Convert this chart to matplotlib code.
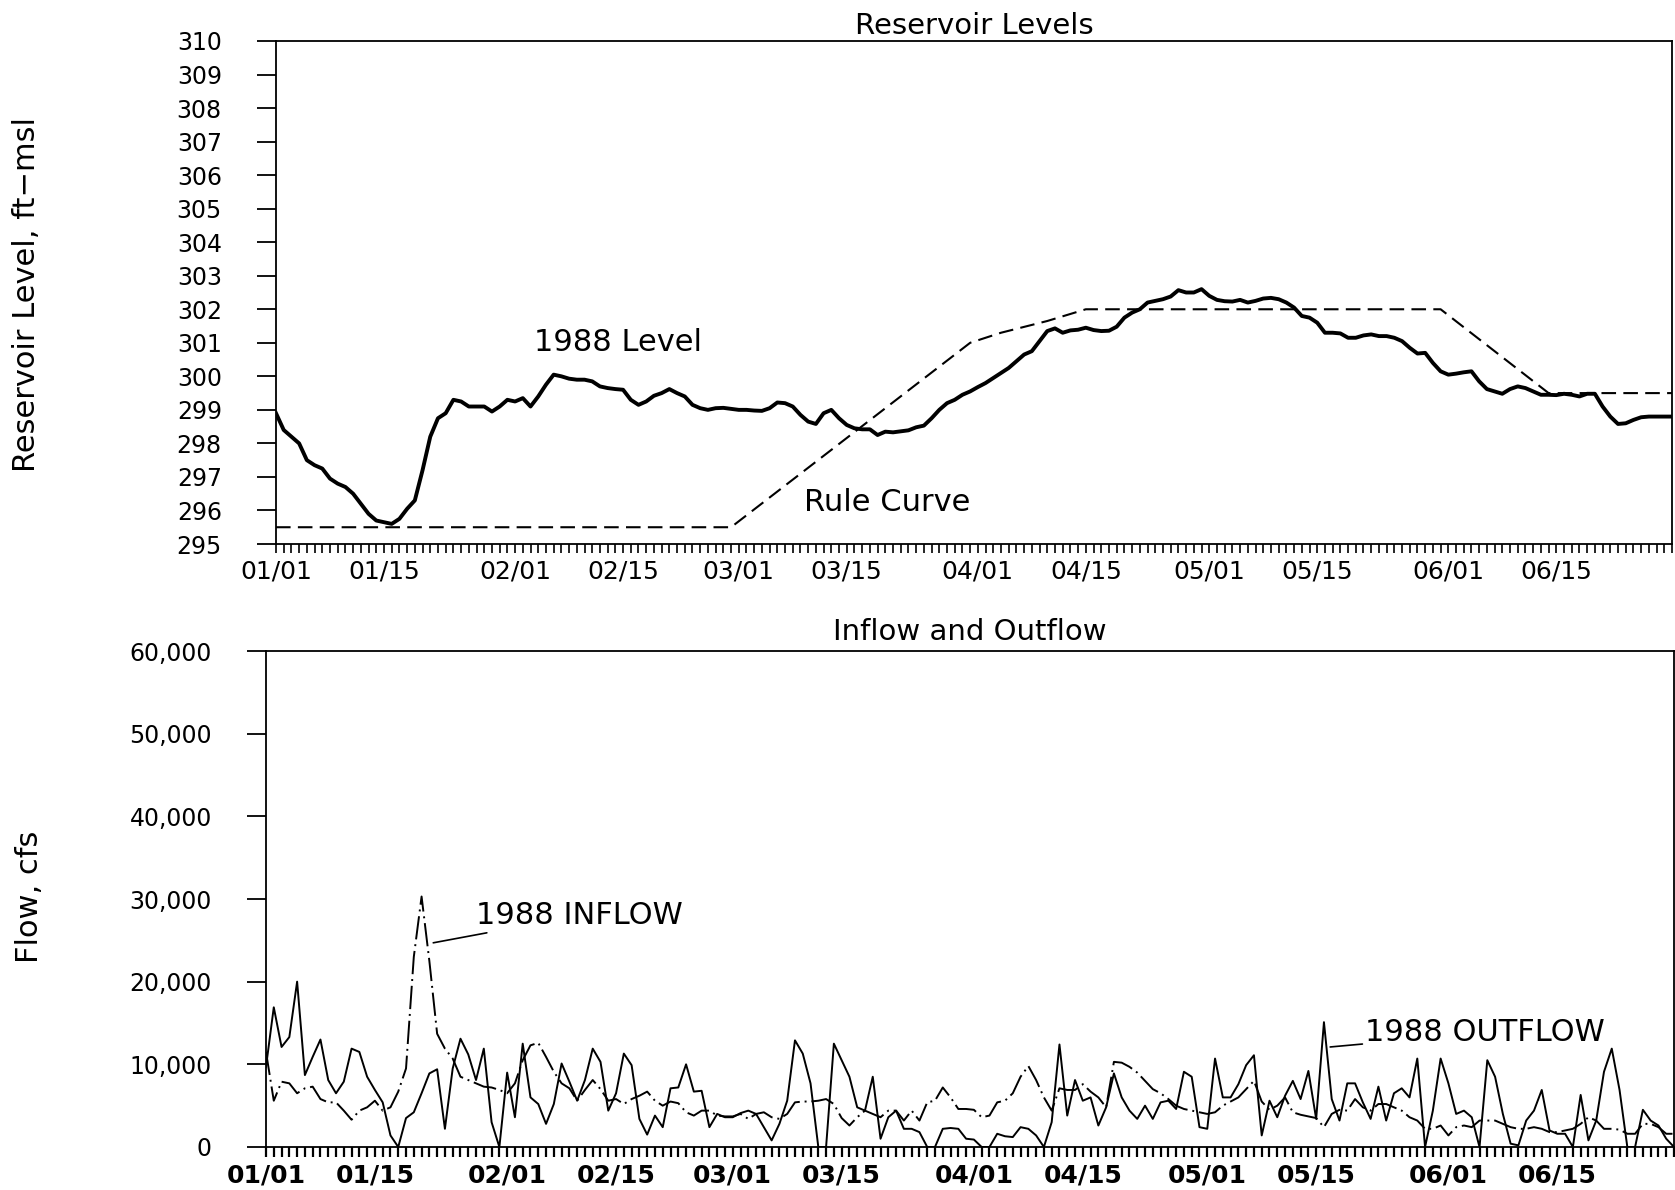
import matplotlib
matplotlib.use("Agg")
import matplotlib.pyplot as plt
import numpy as np

plt.rcParams["font.family"] = ["DejaVu Sans"]

# daily values, 01/01/1988 .. 06/30/1988 (day 0 .. 181)
level = [
    298.9, 298.4, 298.2, 298.0, 297.5, 297.35, 297.25, 296.95, 296.8, 296.7,
    296.5, 296.2, 295.9, 295.7, 295.65, 295.6, 295.75, 296.05, 296.3, 297.2,
    298.2, 298.75, 298.9, 299.3, 299.25, 299.1, 299.1, 299.1, 298.95, 299.1,
    299.3, 299.25, 299.35, 299.1, 299.4, 299.75, 300.05, 300.0, 299.93, 299.9,
    299.9, 299.85, 299.7, 299.65, 299.62, 299.6, 299.3, 299.15, 299.25, 299.42,
    299.5, 299.62, 299.5, 299.4, 299.15, 299.05, 299.0, 299.05, 299.06, 299.03,
    299.0, 299.0, 298.98, 298.97, 299.05, 299.22, 299.2, 299.1, 298.85, 298.65,
    298.58, 298.9, 299.0, 298.75, 298.55, 298.45, 298.42, 298.42, 298.25, 298.35,
    298.33, 298.36, 298.39, 298.48, 298.53, 298.75, 299.0, 299.2, 299.3, 299.45,
    299.55, 299.68, 299.8, 299.95, 300.1, 300.25, 300.45, 300.65, 300.75, 301.05,
    301.35, 301.43, 301.3, 301.37, 301.39, 301.45, 301.38, 301.35, 301.36, 301.48,
    301.75, 301.9, 302.0, 302.2, 302.25, 302.3, 302.38, 302.57, 302.5, 302.5,
    302.6, 302.4, 302.28, 302.24, 302.23, 302.28, 302.2, 302.25, 302.32, 302.34,
    302.3, 302.2, 302.05, 301.8, 301.75, 301.6, 301.3, 301.3, 301.28, 301.15,
    301.15, 301.22, 301.25, 301.2, 301.2, 301.15, 301.05, 300.85, 300.68, 300.7,
    300.4, 300.15, 300.05, 300.08, 300.12, 300.15, 299.85, 299.62, 299.55, 299.48,
    299.62, 299.7, 299.65, 299.55, 299.45, 299.45, 299.44, 299.48, 299.45, 299.4,
    299.48, 299.48, 299.1, 298.8, 298.58, 298.6, 298.7, 298.78, 298.8, 298.8,
    298.8, 298.8,
]

rule_days = [0, 59, 90, 94, 100, 105, 151, 165, 181]
rule_level = [295.5, 295.5, 301.0, 301.3, 301.65, 302.0, 302.0, 299.5, 299.5]

# flows in 1000 cfs
inflow = [
    11.5, 5.6, 7.9, 7.7, 6.5, 7.1, 7.3, 5.8, 5.4, 5.4,
    4.4, 3.3, 4.4, 4.8, 5.6, 4.4, 4.8, 6.7, 9.5, 23.0,
    30.3, 22.5, 13.7, 11.9, 10.7, 8.5, 8.1, 7.7, 7.3, 7.2,
    6.9, 6.5, 7.7, 10.5, 12.3, 12.6, 10.9, 9.1, 7.7, 7.1,
    5.6, 6.9, 8.1, 7.0, 5.6, 5.8, 5.2, 5.8, 6.2, 6.7,
    5.6, 5.0, 5.5, 5.3, 4.2, 3.8, 4.4, 4.4, 3.8, 3.7,
    3.7, 4.0, 3.4, 4.0, 4.2, 3.6, 3.4, 4.0, 5.4, 5.5,
    5.5, 5.6, 5.8, 5.2, 3.5, 2.6, 3.6, 4.4, 4.0, 3.6,
    4.4, 4.4, 3.2, 4.4, 3.2, 5.4, 5.6, 7.2, 6.0, 4.6,
    4.6, 4.5, 3.6, 3.8, 5.4, 5.6, 6.5, 8.5, 9.8, 8.1,
    6.0, 4.4, 7.1, 6.9, 6.9, 7.6, 6.7, 6.0, 4.8, 10.3,
    10.2, 9.7, 9.0, 8.0, 7.0, 6.5, 5.8, 5.0, 4.6, 4.4,
    4.2, 4.0, 4.2, 5.0, 5.5, 6.0, 7.0, 8.0, 5.5, 4.5,
    5.0, 6.0, 4.2, 3.9, 3.7, 3.5, 2.4, 4.0, 4.5, 4.4,
    5.8, 4.8, 4.4, 5.2, 5.2, 4.8, 4.4, 3.6, 3.2, 2.2,
    2.2, 2.6, 1.4, 2.4, 2.6, 2.4, 3.2, 3.2, 3.2, 2.8,
    2.4, 2.2, 2.2, 2.4, 2.2, 1.8, 1.8, 2.0, 2.2, 2.8,
    3.6, 3.2, 2.2, 2.2, 2.1, 1.6, 1.6, 2.8, 2.8, 2.4,
    1.6, 1.6,
]

outflow = [
    9.7, 16.9, 12.1, 13.3, 20.0, 8.7, 10.9, 13.0, 8.1, 6.5,
    7.9, 11.9, 11.5, 8.5, 6.9, 5.4, 1.4, 0.0, 3.5, 4.2,
    6.5, 8.9, 9.4, 2.2, 9.5, 13.1, 11.2, 8.1, 11.9, 3.0,
    0.0, 9.0, 3.6, 12.5, 6.0, 5.2, 2.8, 5.2, 10.1, 7.9,
    5.6, 8.1, 11.9, 10.3, 4.4, 6.5, 11.3, 9.9, 3.4, 1.5,
    3.8, 2.4, 7.1, 7.2, 10.0, 6.7, 6.8, 2.4, 4.0, 3.6,
    3.6, 4.1, 4.4, 4.0, 2.4, 0.8, 2.8, 5.6, 12.9, 11.3,
    7.7, 0.0, 0.0, 12.5, 10.5, 8.5, 4.8, 4.4, 8.5, 1.0,
    3.6, 4.4, 2.2, 2.2, 1.8, 0.0, 0.0, 2.2, 2.3, 2.2,
    1.0, 0.9, 0.0, 0.0, 1.6, 1.3, 1.2, 2.4, 2.2, 1.4,
    0.0, 3.0, 12.4, 3.8, 8.1, 5.6, 6.0, 2.6, 4.8, 8.9,
    6.0, 4.4, 3.4, 5.0, 3.4, 5.4, 5.6, 4.6, 9.1, 8.5,
    2.4, 2.2, 10.7, 6.0, 6.0, 7.6, 9.9, 11.1, 1.4, 5.6,
    3.6, 6.2, 8.0, 5.8, 9.2, 3.4, 15.1, 5.8, 3.2, 7.7,
    7.7, 5.4, 3.4, 7.3, 3.2, 6.5, 7.1, 6.0, 10.7, 0.0,
    4.4, 10.7, 7.7, 4.0, 4.4, 3.6, 0.0, 10.5, 8.5, 4.0,
    0.4, 0.2, 3.2, 4.4, 6.9, 2.0, 1.6, 1.6, 0.0, 6.3,
    0.8, 3.2, 9.1, 11.9, 6.9, 0.0, 0.0, 4.5, 3.2, 2.6,
    1.0, 0.0,
]

date_days = [0, 14, 31, 45, 60, 74, 91, 105, 121, 135, 152, 166]
date_labels = ["01/01", "01/15", "02/01", "02/15", "03/01", "03/15",
               "04/01", "04/15", "05/01", "05/15", "06/01", "06/15"]
flow_ticks = [0, 10000, 20000, 30000, 40000, 50000, 60000]

days = np.arange(len(level))
flow_in = np.array(inflow) * 1000
flow_out = np.array(outflow) * 1000

fig = plt.figure(figsize=(16.75, 11.9), dpi=100)
W, H = 1675.0, 1190.0
ax1 = fig.add_axes([276 / W, 1 - 544 / H, (1672 - 276) / W, (544 - 41) / H])
ax2 = fig.add_axes([266 / W, 1 - 1147 / H, (1674 - 266) / W, (1147 - 651) / H])

# --- reservoir levels ---
ax1.plot(days, level, color="black", lw=2.8, solid_joinstyle="round")
rl, = ax1.plot(rule_days, rule_level, color="black", lw=1.5)
rl.set_dashes((7, 3.5))
ax1.set_xlim(0, 181)
ax1.set_ylim(295, 310)
ax1.set_yticks(np.arange(295, 311, 1))
ax1.set_xticks(date_days)
ax1.set_xticklabels(date_labels)
ax1.set_xticks(days, minor=True)
ax1.tick_params(axis="y", direction="out", length=14, width=1.3, pad=25, labelsize=17)
ax1.tick_params(axis="x", which="both", direction="out", length=6.5, width=1.2, pad=5, labelsize=18)
ax1.set_title("Reservoir Levels", fontsize=21, pad=5)
ax1.text(33.5, 301.0, "1988 Level", fontsize=22, ha="left", va="center")
ax1.text(68.4, 296.25, "Rule Curve", fontsize=22, ha="left", va="center")

# --- inflow / outflow ---
ax2.plot(days, flow_out, color="black", lw=1.4)
il, = ax2.plot(days, flow_in, color="black", lw=1.4)
il.set_dashes((12, 2.5, 1, 2.5))
ax2.set_xlim(0, 181)
ax2.set_ylim(0, 60000)
ax2.set_yticks(flow_ticks)
ax2.set_yticklabels([f"{v:,}" for v in flow_ticks])
ax2.set_xticks(date_days)
ax2.set_xticklabels(date_labels, fontweight="bold")
ax2.set_xticks(days, minor=True)
ax2.tick_params(axis="y", direction="out", length=14, width=1.3, pad=25, labelsize=17)
ax2.tick_params(axis="x", which="both", direction="out", length=7, width=1.6, pad=5, labelsize=18)
ax2.set_title("Inflow and Outflow", fontsize=21, pad=8)
ax2.annotate("1988 INFLOW", xy=(21.5, 24700), xytext=(27.0, 28000),
             fontsize=22, ha="left", va="center",
             arrowprops=dict(arrowstyle="-", color="black", lw=1.2, shrinkA=0, shrinkB=0))
ax2.annotate("1988 OUTFLOW", xy=(136.8, 12100), xytext=(141.3, 13800),
             fontsize=22, ha="left", va="center",
             arrowprops=dict(arrowstyle="-", color="black", lw=1.2, shrinkA=0, shrinkB=0))

for ax in (ax1, ax2):
    for s in ax.spines.values():
        s.set_linewidth(1.3)

fig.text(27 / W, 1 - 294 / H, "Reservoir Level, ft\u2212msl", rotation=90,
         fontsize=22, ha="center", va="center")
fig.text(29 / W, 1 - 897 / H, "Flow, cfs", rotation=90,
         fontsize=22, ha="center", va="center")

fig.savefig("out.png", dpi=100)
